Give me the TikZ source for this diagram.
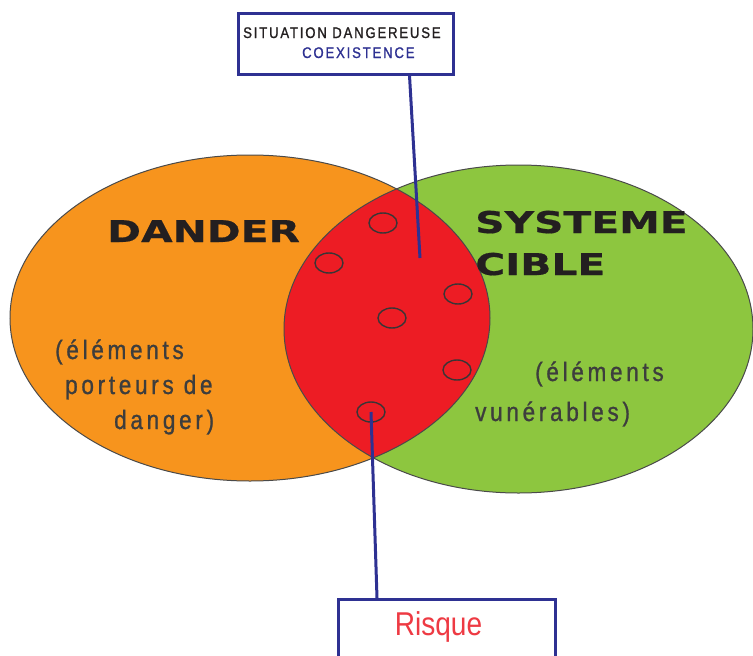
\documentclass[tikz,border=0pt]{standalone}
\usepackage{fontspec}
\setmainfont{Liberation Sans}
% narrow faces for the labels, wide heavy face for the titles
\newfontfamily\condfont[FakeStretch=0.85]{Liberation Sans}
\newfontfamily\tagfont[FakeStretch=0.85,LetterSpace=12,FakeBold=1.2]{Liberation Sans}
\newfontfamily\notefont[FakeStretch=0.85,LetterSpace=14,FakeBold=1]{Liberation Sans}
\newfontfamily\widefont[FakeStretch=1.36,FakeBold=0.6]{DejaVu Sans Bold}

\definecolor{dorange}{HTML}{F7941D}
\definecolor{dgreen}{HTML}{8DC63F}
\definecolor{dred}{HTML}{ED1C24}
\definecolor{dblue}{HTML}{2E3192}
\definecolor{ink}{HTML}{231F20}
\definecolor{softink}{HTML}{3D3D3D}
\definecolor{rtext}{HTML}{EE3A43}
\definecolor{rim}{HTML}{4A4A4A}

\tikzset{
  outline/.style={draw=rim, line width=1pt},
  dot/.style={draw=ink!90, line width=1.4pt, ellipse, minimum width=28pt, minimum height=20pt, inner sep=0pt},
  box/.style={draw=dblue, line width=3pt, fill=white, inner sep=0pt},
  link/.style={draw=dblue, line width=3pt},
  title/.style={anchor=base west, text=ink, inner sep=0pt, font=\widefont\fontsize{30}{36}\selectfont},
  note/.style={anchor=base west, text=softink, inner sep=0pt, font=\notefont\fontsize{26.5}{32}\selectfont},
  tag/.style={anchor=base west, inner sep=0pt, font=\tagfont\fontsize{15.4}{18}\selectfont},
}
\usetikzlibrary{shapes.geometric}

\begin{document}
\begin{tikzpicture}[x=1pt,y=-1pt]
\useasboundingbox (0,0) rectangle (753,656);
\fill[white] (0,0) rectangle (753,656);

% the two sets and their overlap
\fill[dorange] (250,318) ellipse [x radius=240pt, y radius=163pt];
\fill[dgreen] (518.5,329) ellipse [x radius=234.5pt, y radius=164pt];
\begin{scope}
  \clip (250,318) ellipse [x radius=240pt, y radius=163pt];
  \fill[dred] (518.5,329) ellipse [x radius=234.5pt, y radius=164pt];
\end{scope}
\draw[outline] (250,318) ellipse [x radius=240pt, y radius=163pt];
\draw[outline] (518.5,329) ellipse [x radius=234.5pt, y radius=164pt];

% elements in the overlap
\node[dot] (d1) at (383,223) {};
\node[dot] (d2) at (329,263) {};
\node[dot] (d3) at (458,294) {};
\node[dot] (d4) at (392,318) {};
\node[dot] (d5) at (457,370) {};
\node[dot] (d6) at (371,412) {};

% titles
\node[title] (dander) at (107,242) {DANDER};
\node[title] (systeme) at (475,233) {SYSTEME};
\node[title] (cible) at (475,275) {CIBLE};

% descriptions
\node[note] (l1) at (55,359) {(éléments};
\node[note] (l2) at (65,394) {porteurs de};
\node[note] (l3) at (114,429) {danger)};
\node[note] (r1) at (535,381) {(éléments};
\node[note] (r2) at (475,421) {vunérables)};

% label boxes
\node[box, minimum width=215pt, minimum height=61pt] (sit) at (345.5,43.5) {};
\node[tag, text=ink] (sit1) at (243,38) {SITUATION DANGEREUSE};
\node[tag, text=dblue] (sit2) at (302,58) {COEXISTENCE};

\node[box, minimum width=217pt, minimum height=90pt, anchor=north] (risk) at (446.5,598) {};
\node[anchor=base, inner sep=0pt, text=rtext, font=\condfont\fontsize{33}{40}\selectfont] (risktxt) at (438.5,635) {Risque};

% connectors
\coordinate (sitend) at (420,258);
\draw[link] ([xshift=64pt]sit.south) -- (sitend);
\draw[link] (d6.center) -- ([xshift=-69.5pt]risk.north);
\end{tikzpicture}
\end{document}
